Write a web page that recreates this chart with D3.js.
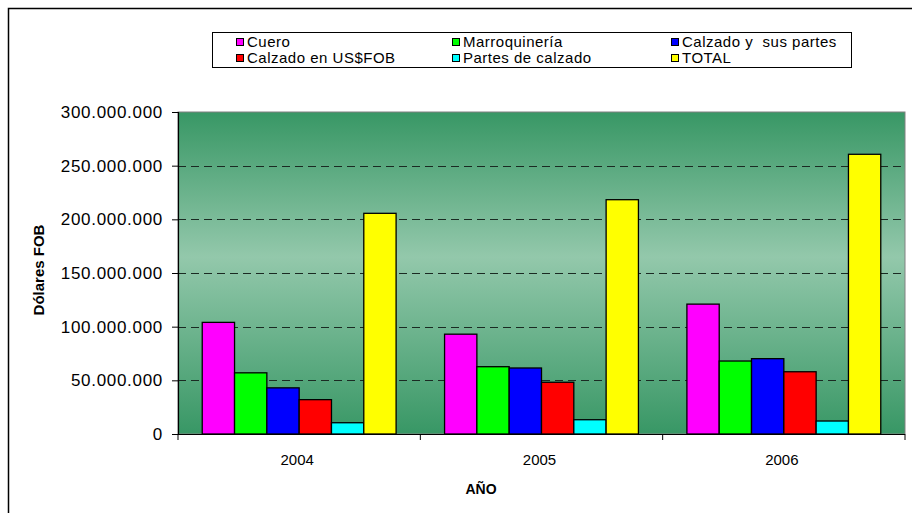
<!DOCTYPE html>
<html>
<head>
<meta charset="utf-8">
<script src="https://cdn.jsdelivr.net/npm/d3@7"></script>
<style>
  html, body { margin: 0; padding: 0; background: #fff; }
  svg { display: block; font-family: "Liberation Sans", Arial, sans-serif; }
</style>
</head>
<body>
<svg id="chart" width="912" height="513"></svg>
<script>
// Exportaciones del sector cuero, calzado y marroquinería (US$ FOB)
const years = ["2004", "2005", "2006"];
const seriesNames = ["Cuero", "Marroquinería", "Calzado y  sus partes", "Calzado en US$FOB", "Partes de calzado", "TOTAL"];
const cuero = [104000000, 93000000, 121000000];
const marroquineria = [57000000, 62700000, 68000000];
const calzadoYPartes = [43000000, 61500000, 70200000];
const calzadoFOB = [32000000, 48200000, 58000000];
const partesCalzado = [10500000, 13300000, 12100000];
const total = [205600000, 218300000, 260600000];
const yTicks = [0, 50000000, 100000000, 150000000, 200000000, 250000000, 300000000];

const seriesValues = [cuero, marroquineria, calzadoYPartes, calzadoFOB, partesCalzado, total];
const seriesColors = ["#ff00ff", "#00ff00", "#0000ff", "#ff0000", "#00ffff", "#ffff00"];

const svg = d3.select("#chart");
const plot = { left: 178, right: 905, top: 112, bottom: 434 };

const fmt = d3.formatLocale({ decimal: ",", thousands: ".", grouping: [3], currency: ["$", ""] }).format(",d");

const x0 = d3.scaleBand().domain(years).range([plot.left, plot.right]).paddingInner(0).paddingOuter(0);
const x1 = d3.scaleBand().domain(seriesNames).range([0, x0.bandwidth()]).paddingInner(0).paddingOuter(0.75);
const y = d3.scaleLinear().domain([0, 300000000]).range([plot.bottom, plot.top]);

// Chart frame
svg.append("rect")
  .attr("x", 8.5).attr("y", 8.5).attr("width", 1000).attr("height", 1000)
  .attr("fill", "none").attr("stroke", "#000").attr("stroke-width", 1.5);

// Plot background gradient
const defs = svg.append("defs");
const grad = defs.append("linearGradient").attr("id", "bg").attr("x1", 0).attr("y1", 0).attr("x2", 0).attr("y2", 1);
grad.append("stop").attr("offset", "0%").attr("stop-color", "#389765");
grad.append("stop").attr("offset", "45%").attr("stop-color", "#93c8ab");
grad.append("stop").attr("offset", "100%").attr("stop-color", "#389765");

svg.append("rect")
  .attr("x", plot.left).attr("y", plot.top)
  .attr("width", plot.right - plot.left).attr("height", plot.bottom - plot.top)
  .attr("fill", "url(#bg)").attr("stroke", "#808080").attr("stroke-width", 1);

// Dashed gridlines
svg.append("g").selectAll("line")
  .data(yTicks.filter(d => d > 0 && d < 300000000))
  .join("line")
  .attr("x1", plot.left).attr("x2", plot.right)
  .attr("y1", d => Math.round(y(d)) + 0.5).attr("y2", d => Math.round(y(d)) + 0.5)
  .attr("stroke", "#1a2a22").attr("stroke-width", 1).attr("stroke-dasharray", "8,5");

// Bars
const groups = svg.append("g").selectAll("g")
  .data(years)
  .join("g")
  .attr("transform", d => `translate(${x0(d)},0)`);

groups.selectAll("rect")
  .data((yr, i) => seriesNames.map((name, s) => ({ name, s, value: seriesValues[s][i] })))
  .join("rect")
  .attr("x", d => x1(d.name))
  .attr("y", d => y(d.value))
  .attr("width", x1.bandwidth())
  .attr("height", d => y(0) - y(d.value))
  .attr("fill", d => seriesColors[d.s])
  .attr("stroke", "#000").attr("stroke-width", 1.3);

// Y axis
const yAxis = svg.append("g")
  .attr("transform", `translate(${plot.left},0)`)
  .call(d3.axisLeft(y).tickValues(yTicks).tickFormat(fmt).tickSize(6).tickPadding(9));
yAxis.select(".domain").attr("stroke", "#000").attr("stroke-width", 1.2);
yAxis.selectAll(".tick line").attr("stroke", "#000");
yAxis.selectAll(".tick text")
  .attr("font-family", "'Liberation Sans', Arial, sans-serif")
  .attr("font-size", 17).attr("letter-spacing", "0.7px").attr("fill", "#000");

// X axis with ticks at category boundaries
const xAxis = svg.append("g").attr("transform", `translate(0,${plot.bottom})`);
xAxis.append("line")
  .attr("x1", plot.left).attr("x2", plot.right)
  .attr("y1", 0.5).attr("y2", 0.5).attr("stroke", "#000").attr("stroke-width", 1.2);
const bounds = years.map(d => x0(d)).concat([plot.right]);
xAxis.selectAll("line.tick")
  .data(bounds).join("line").attr("class", "tick")
  .attr("x1", d => d).attr("x2", d => d).attr("y1", 0).attr("y2", 6)
  .attr("stroke", "#000");
xAxis.selectAll("text")
  .data(years).join("text")
  .attr("x", d => x0(d) + x0.bandwidth() / 2 - 2)
  .attr("y", 31)
  .attr("text-anchor", "middle")
  .attr("font-size", 15).attr("fill", "#000")
  .text(d => d);

// Axis titles
svg.append("text")
  .attr("x", 481).attr("y", 494)
  .attr("text-anchor", "middle").attr("font-size", 14).attr("font-weight", "bold")
  .text("AÑO");

svg.append("text")
  .attr("transform", "translate(44,270) rotate(-90)")
  .attr("text-anchor", "middle").attr("font-size", 15).attr("font-weight", "bold")
  .text("Dólares FOB");

// Legend
const legend = svg.append("g");
legend.append("rect")
  .attr("x", 212.5).attr("y", 32.5).attr("width", 639).attr("height", 35)
  .attr("fill", "#fff").attr("stroke", "#000").attr("stroke-width", 1);
const colX = [236, 452, 671];
const rowY = [42, 58];
const items = legend.selectAll("g.item")
  .data(seriesNames)
  .join("g").attr("class", "item")
  .attr("transform", (d, i) => `translate(${colX[i % 3]},${rowY[Math.floor(i / 3)]})`);
items.append("rect")
  .attr("x", 0.5).attr("y", -3.5).attr("width", 7).attr("height", 7)
  .attr("fill", (d, i) => seriesColors[i]).attr("stroke", "#000").attr("stroke-width", 1);
items.append("text")
  .attr("x", 11).attr("y", 5)
  .attr("font-size", 15).attr("letter-spacing", "0.5px").attr("fill", "#000")
  .style("white-space", "pre")
  .text(d => d);
</script>
</body>
</html>
